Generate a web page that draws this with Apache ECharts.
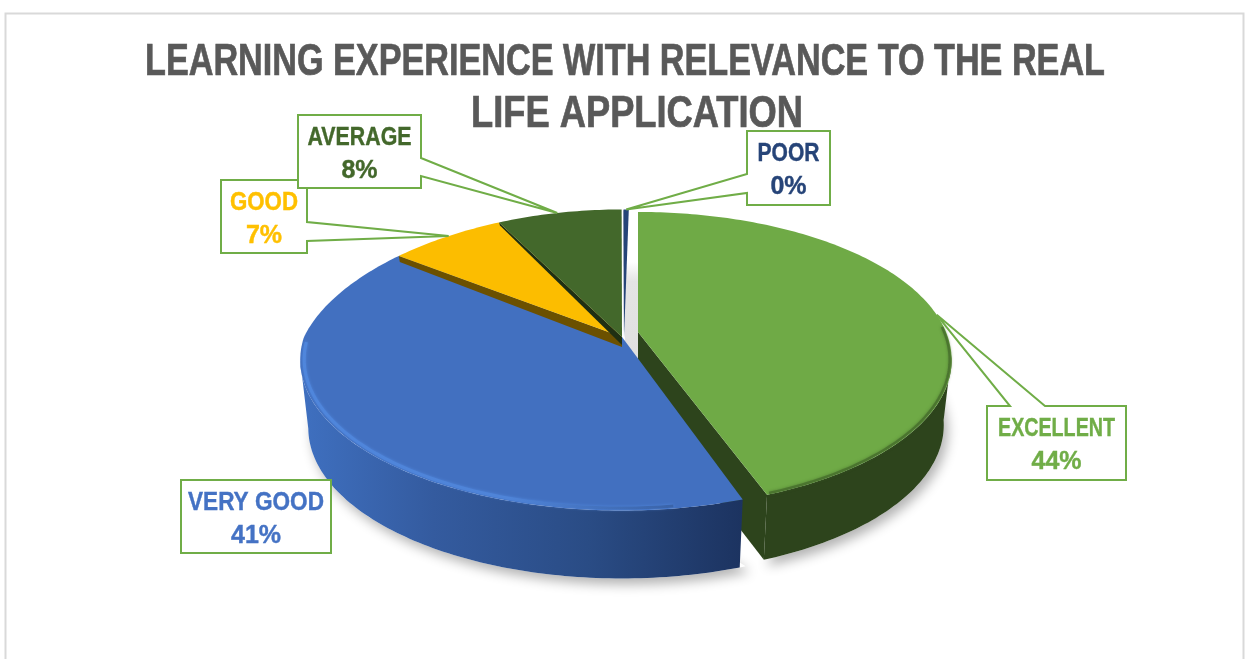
<!DOCTYPE html>
<html>
<head>
<meta charset="utf-8">
<style>html,body{margin:0;padding:0;background:#fff}#chart{width:1248px;height:659px}</style>
<script src="https://cdn.jsdelivr.net/npm/echarts@6/dist/echarts.min.js"></script>
</head>
<body>
<div id="chart"></div>
<script>
// ---- data ----
const titleLines = ['LEARNING EXPERIENCE WITH RELEVANCE TO THE REAL', 'LIFE APPLICATION'];
const categories = ['EXCELLENT', 'VERY GOOD', 'GOOD', 'AVERAGE', 'POOR'];
const shares = [44.4, 40.6, 7.0, 7.7, 0.3];

// ---- style and layout (separate from the data) ----
const topColors = ['#6faa46', '#4270c0', '#fcbd00', '#43682b', '#264478'];
const labelColors = ['#70ad47', '#4472c4', '#ffc000', '#43682b', '#264478'];
const edgeColors = ['#2d441c', '#2a4a80', '#6b5000', '#1f2f13', '#152a4d'];
const titleLayout = [{x: 625, y: 63, w: 960}, {x: 637, y: 115, w: 332}];
const boxes = [
  {x: 987, y: 406, w: 139, h: 74, side: 'top', n1: 23, n2: 58, tipR: 1, tipShift: 3, nameW: 117},
  {x: 181, y: 480, w: 150, h: 73, side: 'none', nameW: 136},
  {x: 221, y: 180, w: 86, h: 73, side: 'right', n1: 42, n2: 61, tipR: 1, tipShift: 0.5, nameW: 68},
  {x: 298, y: 115, w: 123, h: 73, side: 'right', n1: 43, n2: 61, tipR: 1, tipShift: -0.5, nameW: 104},
  {x: 747, y: 131, w: 83, h: 74, side: 'left', n1: 43, n2: 62, tipR: 1, tipShift: 0, nameW: 62}
];
const P = {cx: 622, cy: 337, rx: 318, ry: 147, k: 0.1525, depth: 68, bottomScale: 0.975};
const slicePose = [
  {dx: 16, dy: -5, rx: 308, ry: 142.7, k: 0.189, depth: 65, turn: 0, narrow: 0},
  {dx: 0, dy: 0, rx: P.rx, ry: P.ry, k: P.k, depth: P.depth, turn: 1.2, narrow: 0.07},
  {dx: 0, dy: 0, rx: P.rx, ry: P.ry, k: P.k, depth: P.depth, turn: 1, narrow: 0.07},
  {dx: 0, dy: 0, rx: P.rx, ry: P.ry, k: P.k, depth: P.depth, turn: 1, narrow: 0.07},
  {dx: 2, dy: 0, rx: P.rx, ry: P.ry, k: P.k, depth: P.depth, turn: 1, narrow: 0}
];
const FONT = '"Liberation Sans", Arial, sans-serif';

const total = shares.reduce((a, b) => a + b, 0);
const ends = [];
shares.reduce((acc, v, i) => { ends[i] = acc + v / total * 360; return ends[i]; }, 0);
const starts = ends.map((e, i) => (i === 0 ? 0 : ends[i - 1]));

const ctx = document.createElement('canvas').getContext('2d');
function fitScale(text, font, target) { ctx.font = font; return target / ctx.measureText(text).width; }

function project(deg, r, i, bottom) {
  const pose = slicePose[i], t = deg * Math.PI / 180;
  const u = r * Math.sin(t), v = r * Math.cos(t), p = 1 / (1 + pose.k * v);
  const sx = bottom ? P.bottomScale : 1;
  const n = (u < 0 && v > 0) ? 1 / (1 + pose.narrow * v) : 1;
  return [P.cx + pose.dx + pose.rx * sx * u * p * n,
          P.cy + pose.dy + (bottom ? pose.depth : 0) - pose.ry * v * p];
}
function arc(a, b, r, i, bottom) {
  const pts = [], n = Math.max(2, Math.ceil(Math.abs(b - a)));
  for (let j = 0; j <= n; j++) pts.push(project(a + (b - a) * j / n, r, i, bottom));
  return pts;
}
const poly = (points, style) => ({type: 'polygon', shape: {points}, style});
const line = (points, style) => ({type: 'polyline', shape: {points}, style: Object.assign({fill: 'none'}, style)});
const hGrad = (stops) => ({type: 'linear', x: 0, y: 0, x2: 1, y2: 0, colorStops: stops});

function renderBackdrop() {
  const shadow = {fill: '#fff', shadowBlur: 12, shadowColor: 'rgba(0,0,0,0.3)', shadowOffsetX: 4, shadowOffsetY: 6};
  return {type: 'group', children: [
    poly(arc(160, 300, 1, 1, true), shadow),
    poly(arc(60, 160, 1, 0, true), shadow),
    {type: 'rect', shape: {x: P.cx + 3, y: 262, width: 14, height: 130},
      style: {fill: {type: 'linear', x: 0, y: 0, x2: 0, y2: 1, colorStops: [{offset: 0, color: '#ffffff'}, {offset: 0.15, color: '#e4e4e4'}, {offset: 1, color: '#dedede'}]}}}
  ]};
}

function renderSlice(params) {
  const i = params.dataIndex, a = starts[i] + slicePose[i].turn, b = ends[i] + slicePose[i].turn, kids = [];
  const center = project(0, 0, i, false), centerB = project(0, 0, i, true);
  if (i === 0) {
    kids.push(poly([center, project(b, 1, i, false), project(b, 1, i, true), centerB], {fill: edgeColors[0]}));
    kids.push(poly(arc(99, b, 1, i, false).concat(arc(b, 99, 1, i, true)), {fill: edgeColors[0]}));
    kids.push(poly([center].concat(arc(a, b, 1, i, false)), {fill: topColors[0]}));
    kids.push(line(arc(88, b - 0.5, 0.994, i, false), {stroke: '#3f6428', lineWidth: 2.5, opacity: 0.6, shadowBlur: 3, shadowColor: '#3f6428'}));
  } else if (i === 1) {
    kids.push(poly(arc(a, 261, 1, i, false).concat(arc(261, a, 1, i, true)), {
      fill: hGrad([{offset: 0, color: '#3f70c0'}, {offset: 0.3, color: '#345b9f'}, {offset: 0.65, color: '#2a4c85'}, {offset: 1, color: '#1c3360'}])}));
    kids.push(poly([center].concat(arc(a, b, 1, i, false)), {fill: topColors[1]}));
    kids.push(line(arc(172, 268, 0.988, i, false), {
      stroke: hGrad([{offset: 0, color: '#4f86dc'}, {offset: 0.55, color: '#4f84d8'}, {offset: 1, color: '#3a63a8'}]), lineWidth: 3, shadowBlur: 3, shadowColor: '#4f86dc'}));
  } else {
    // the thin visible cut face along the slice's first edge
    const outer = project(a, 1, i, false), tail = i === 2 ? 10 : 8, lip = i === 2 ? 6 : 3;
    kids.push(poly([center, outer, [outer[0] + 1, outer[1] + lip], [center[0], center[1] + tail]], {fill: edgeColors[i]}));
    kids.push(poly([center].concat(arc(a, b, 1, i, false)), {fill: topColors[i]}));
  }
  return {type: 'group', children: kids};
}

function renderCallout(params) {
  const i = params.dataIndex, bx = boxes[i];
  const x0 = bx.x, y0 = bx.y, x1 = bx.x + bx.w, y1 = bx.y + bx.h;
  const mid = (starts[i] + ends[i]) / 2 + slicePose[i].turn + (bx.tipShift || 0);
  let pts = [[x0, y0], [x1, y0], [x1, y1], [x0, y1]];
  if (bx.side !== 'none') {
    const tip = project(mid, bx.tipR, i, false);
    if (bx.side === 'top') pts = [[x0, y0], [x0 + bx.n1, y0], tip, [x0 + bx.n2, y0], [x1, y0], [x1, y1], [x0, y1]];
    if (bx.side === 'right') pts = [[x0, y0], [x1, y0], [x1, y0 + bx.n1], tip, [x1, y0 + bx.n2], [x1, y1], [x0, y1]];
    if (bx.side === 'left') pts = [[x0, y0], [x1, y0], [x1, y1], [x0, y1], [x0, y0 + bx.n2], tip, [x0, y0 + bx.n1]];
  }
  const pct = Math.round(shares[i] / total * 100) + '%';
  const font = 'bold 25px ' + FONT;
  const cx = x0 + bx.w / 2;
  const ink = {stroke: labelColors[i], lineWidth: 0.4};
  return {type: 'group', children: [
    poly(pts, {fill: '#fff', stroke: '#70ad47', lineWidth: 2}),
    {type: 'text', x: cx, y: y0 + 23, scaleX: fitScale(categories[i], font, bx.nameW),
      style: Object.assign({text: categories[i], align: 'center', verticalAlign: 'middle', font, fill: labelColors[i]}, ink)},
    {type: 'text', x: cx, y: y0 + 56,
      style: Object.assign({text: pct, align: 'center', verticalAlign: 'middle', font, fill: labelColors[i]}, ink)}
  ]};
}

const titleFont = 'bold 44px ' + FONT;
const chart = echarts.init(document.getElementById('chart'), null, {renderer: 'canvas'});
chart.setOption({
  animation: false,
  backgroundColor: '#ffffff',
  graphic: [
    {type: 'rect', silent: true, z: -1, shape: {x: 5.5, y: 13.5, width: 1238, height: 700}, style: {fill: '#fff', stroke: '#d9d9d9', lineWidth: 2}}
  ].concat(titleLines.map((t, i) => ({
    type: 'text', silent: true, z: 0, x: titleLayout[i].x, y: titleLayout[i].y,
    scaleX: fitScale(t, titleFont, titleLayout[i].w),
    style: {text: t, font: titleFont, fill: '#595959', stroke: '#595959', lineWidth: 0.7, align: 'center', verticalAlign: 'middle'}
  }))),
  series: [
    {type: 'custom', coordinateSystem: 'none', silent: true, z: 1, data: [0], renderItem: renderBackdrop},
    {type: 'custom', coordinateSystem: 'none', silent: true, z: 2, data: shares, renderItem: renderSlice},
    {type: 'custom', coordinateSystem: 'none', silent: true, z: 3, data: shares, renderItem: renderCallout}
  ]
});
</script>
</body>
</html>
